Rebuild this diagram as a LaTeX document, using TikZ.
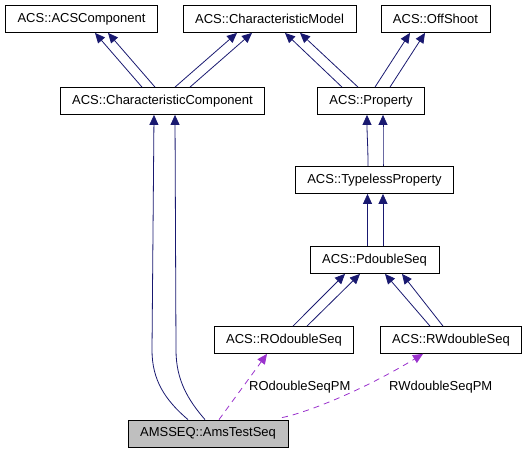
\documentclass[tikz,border=0pt]{standalone}
\usepackage{fontspec}
\setmainfont{Liberation Sans}
\usepackage{tikz}
\usetikzlibrary{arrows.meta}
\usepackage{xcolor}
\definecolor{navy}{HTML}{191970}
\definecolor{usecol}{HTML}{9A32CD}

\begin{document}
\begin{tikzpicture}[
    x=1pt, y=-1pt,
    >={Triangle[length=10pt, width=9pt]},
    every node/.style={font=\fontsize{13}{15}\selectfont},
    box/.style={rectangle, draw, line width=0.8pt, minimum height=27pt, inner xsep=12pt, inner ysep=0pt},
    inherit/.style={->, draw=navy, line width=0.8pt},
    uses/.style={->, draw=usecol, line width=0.8pt, dash pattern=on 6pt off 5pt},
    edge label/.style={inner sep=0pt}
  ]

  \useasboundingbox (0,0) rectangle (528,453);

  \node[box] (acscomp) at (81.5,19) {ACS::ACSComponent};
  \node[box] (charmodel) at (269.5,19) {ACS::CharacteristicModel};
  \node[box] (offshoot) at (435.5,19) {ACS::OffShoot};

  \node[box] (charcomp) at (162.5,101) {ACS::CharacteristicComponent};
  \node[box] (prop) at (371,101) {ACS::Property};

  \node[box] (typeless) at (374.5,180) {ACS::TypelessProperty};
  \node[box] (pdseq) at (374.5,260) {ACS::PdoubleSeq};

  \node[box] (rodseq) at (284,340) {ACS::ROdoubleSeq};
  \node[box] (rwdseq) at (451,340) {ACS::RWdoubleSeq};

  \node[box, fill=black!25] (ams) at (208,433.5) {AMSSEQ::AmsTestSeq};

  \draw[inherit] ([xshift=-20.5pt]charcomp.north) -- ([xshift=13.5pt]acscomp.south);
  \draw[inherit] ([xshift=-7.5pt]charcomp.north) -- ([xshift=26.5pt]acscomp.south);
  \draw[inherit] ([xshift=12.5pt]charcomp.north) -- ([xshift=-32.5pt]charmodel.south);
  \draw[inherit] ([xshift=27.5pt]charcomp.north) -- ([xshift=-17.5pt]charmodel.south);

  \draw[inherit] ([xshift=-29pt]prop.north) -- ([xshift=15.5pt]charmodel.south);
  \draw[inherit] ([xshift=-13pt]prop.north) -- ([xshift=30.5pt]charmodel.south);
  \draw[inherit] ([xshift=4pt]prop.north) -- ([xshift=-25.5pt]offshoot.south);
  \draw[inherit] ([xshift=19pt]prop.north) -- ([xshift=-10.5pt]offshoot.south);

  \draw[inherit] ([xshift=-6.5pt]typeless.north) .. controls +(0,-20) and +(0,20) .. ([xshift=-4pt]prop.south);
  \draw[inherit] ([xshift=8.5pt]typeless.north) .. controls +(0,-20) and +(0,20) .. ([xshift=12pt]prop.south);
  \draw[inherit] ([xshift=-7pt]pdseq.north) -- ([xshift=-7pt]typeless.south);
  \draw[inherit] ([xshift=8.5pt]pdseq.north) -- ([xshift=8.5pt]typeless.south);

  \draw[inherit] ([xshift=9pt]rodseq.north) -- ([xshift=-29.5pt]pdseq.south);
  \draw[inherit] ([xshift=23pt]rodseq.north) -- ([xshift=-14.5pt]pdseq.south);
  \draw[inherit] ([xshift=-21pt]rwdseq.north) -- ([xshift=10.5pt]pdseq.south);
  \draw[inherit] ([xshift=-8pt]rwdseq.north) -- ([xshift=27.5pt]pdseq.south);

  \draw[inherit] ([xshift=-20pt]ams.north) .. controls (165,400) and (152,380) .. (152,350) -- ([xshift=-8.5pt]charcomp.south);
  \draw[inherit] ([xshift=-3pt]ams.north) .. controls (188,400) and (176,380) .. (176,350) -- ([xshift=12.5pt]charcomp.south);

  \draw[uses] ([xshift=11pt]ams.north) -- ([xshift=-17pt]rodseq.south);
  \draw[uses] ([xshift=74pt,yshift=2pt]ams.north) .. controls (305,413) and (360,392) .. ([xshift=-28pt]rwdseq.south);

  \node[edge label, anchor=west] (rolabel) at (249,387) {ROdoubleSeqPM};
  \node[edge label, anchor=west] (rwlabel) at (389,387) {RWdoubleSeqPM};

\end{tikzpicture}
\end{document}
